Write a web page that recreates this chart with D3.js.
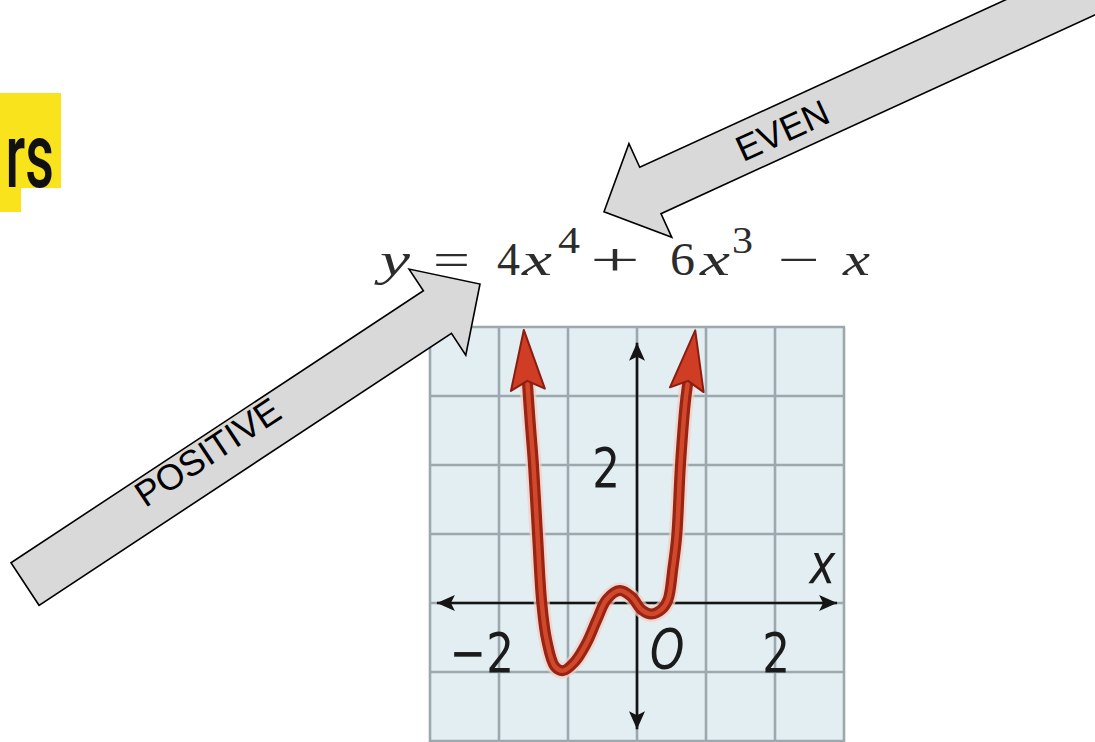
<!DOCTYPE html>
<html>
<head>
<meta charset="utf-8">
<script src="https://cdn.jsdelivr.net/npm/d3@7/dist/d3.min.js"></script>
<style>
  html, body { margin: 0; padding: 0; background: #fff; overflow: hidden; }
</style>
</head>
<body>
<div id="chart"></div>
<script>
// Curve, graph units (one grid square = 1)
const curveX = [-1.59, -1.55, -1.50, -1.44, -1.38, -1.31, -1.19, -1.07, -0.90, -0.73, -0.58, -0.44,
                -0.25, -0.08, 0.07, 0.21, 0.36, 0.45, 0.52, 0.575, 0.63, 0.70, 0.74];
const curveY = [3.22, 2.65, 2.0, 0.96, 0.0, -0.53, -0.92, -0.98, -0.85, -0.58, -0.24, 0.05,
                0.18, 0.09, -0.10, -0.16, -0.09, 0.05, 0.5, 0.96, 2.0, 2.9, 3.22];

const xTicks = [-2, 2];
const xTickLabels = ['\u22122', '2'];
const yTicks = [2];
const yTickLabels = ['2'];

const eqTokens = ['y', '=', '4', 'x', '4', '+', '6', 'x', '3', '\u2212', 'x'];
const arrowLabels = ['POSITIVE', 'EVEN'];
const titleText = 'rs';   // tail of the slide title, the rest is off the page

const W = 1095, H = 742;

const svg = d3.select('#chart').append('svg')
  .attr('width', W).attr('height', H)
  .attr('viewBox', `0 0 ${W} ${H}`);

const defs = svg.append('defs');

// ---- title fragment (top left) ----
svg.append('rect').attr('x', 0).attr('y', 93).attr('width', 61).attr('height', 95).attr('fill', '#f8e31c');
svg.append('rect').attr('x', 0).attr('y', 188).attr('width', 21).attr('height', 24).attr('fill', '#f8e31c');
svg.append('text')
  .attr('transform', 'translate(54,187) scale(0.62,1)')
  .attr('text-anchor', 'end')
  .attr('font-family', 'Roboto, sans-serif').attr('font-weight', 500)
  .attr('font-size', 90).attr('fill', '#111')
  .text(titleText);

// ---- graph ----
const x = d3.scaleLinear().domain([-3, 3]).range([430, 844]);
const y = d3.scaleLinear().domain([-2, 4]).range([741, 327]);

const graph = svg.append('g');

graph.append('rect')
  .attr('x', x(-3)).attr('y', y(4))
  .attr('width', x(3) - x(-3)).attr('height', y(-2) - y(4) + 4)
  .attr('fill', '#e3eef2');

graph.append('g').selectAll('line').data(x.ticks(6)).join('line')
  .attr('x1', d => x(d)).attr('x2', d => x(d))
  .attr('y1', y(4)).attr('y2', H)
  .attr('stroke', '#9ca8ad').attr('stroke-width', 2.6);
graph.append('g').selectAll('line').data(y.ticks(6)).join('line')
  .attr('x1', x(-3) - 1).attr('x2', x(3) + 1)
  .attr('y1', d => y(d)).attr('y2', d => y(d))
  .attr('stroke', '#9ca8ad').attr('stroke-width', 2.6);

// axis arrowheads
defs.append('marker')
  .attr('id', 'axisHead')
  .attr('markerUnits', 'userSpaceOnUse')
  .attr('viewBox', '-20 -10 22 20')
  .attr('markerWidth', 22).attr('markerHeight', 20)
  .attr('refX', 0).attr('refY', 0)
  .attr('orient', 'auto-start-reverse')
  .append('path').attr('d', 'M0,0 L-18,-8 L-14,0 L-18,8 Z').attr('fill', '#141414');

graph.append('line')
  .attr('x1', x(-2.9)).attr('x2', x(2.9)).attr('y1', y(0)).attr('y2', y(0))
  .attr('stroke', '#141414').attr('stroke-width', 2.6)
  .attr('marker-start', 'url(#axisHead)').attr('marker-end', 'url(#axisHead)');
graph.append('line')
  .attr('x1', x(0)).attr('x2', x(0)).attr('y1', y(-1.83)).attr('y2', y(3.77))
  .attr('stroke', '#141414').attr('stroke-width', 2.6)
  .attr('marker-start', 'url(#axisHead)').attr('marker-end', 'url(#axisHead)');

// tick labels and axis letters
const labelFont = 'DejaVu Sans, sans-serif';
graph.append('g').selectAll('text').data(xTicks).join('text')
  .attr('transform', d => `translate(${x(d) + 15},${y(-1)}) scale(0.78,1)`)
  .attr('text-anchor', 'end')
  .attr('font-family', labelFont).attr('font-size', 56).attr('fill', '#1b1b1b')
  .text((d, i) => xTickLabels[i]);
graph.append('g').selectAll('text').data(yTicks).join('text')
  .attr('transform', d => `translate(${x(0) - 17},${y(d) + 22}) scale(0.78,1)`)
  .attr('text-anchor', 'end')
  .attr('font-family', labelFont).attr('font-size', 56).attr('fill', '#1b1b1b')
  .text((d, i) => yTickLabels[i]);
graph.append('text')
  .attr('transform', `translate(${x(0) + 13},${y(0) + 65}) scale(0.78,1)`)
  .attr('font-family', labelFont).attr('font-style', 'italic')
  .attr('font-size', 56).attr('fill', '#1b1b1b').text('O');
graph.append('text')
  .attr('transform', `translate(${x(2.5)},${y(0) - 20}) scale(0.78,1)`)
  .attr('font-family', labelFont).attr('font-style', 'italic')
  .attr('font-size', 56).attr('fill', '#1b1b1b').text('x');

// the polynomial curve
const pts = curveX.map((v, i) => [v, curveY[i]]);
const line = d3.line().x(d => x(d[0])).y(d => y(d[1])).curve(d3.curveCatmullRom.alpha(0.5));

defs.append('marker')
  .attr('id', 'curveHead')
  .attr('markerUnits', 'userSpaceOnUse')
  .attr('viewBox', '-2 -20 66 40')
  .attr('markerWidth', 66).attr('markerHeight', 40)
  .attr('refX', 9).attr('refY', 0)
  .attr('orient', 'auto-start-reverse')
  .append('path')
  .attr('d', 'M0,-17 L60,0 L0,17 L9,0 Z')
  .attr('fill', '#cf3d24').attr('stroke', '#8a1d10').attr('stroke-width', 2)
  .attr('stroke-linejoin', 'round');

graph.append('path').attr('d', line(pts))
  .attr('fill', 'none').attr('stroke', '#f3cfc4').attr('stroke-width', 16)
  .attr('stroke-linejoin', 'round').attr('opacity', 0.7);
graph.append('path').attr('d', line(pts))
  .attr('fill', 'none').attr('stroke', '#982414').attr('stroke-width', 11)
  .attr('stroke-linejoin', 'round');
graph.append('path').attr('d', line(pts))
  .attr('fill', 'none').attr('stroke', '#d2482a').attr('stroke-width', 4.5)
  .attr('stroke-linejoin', 'round');
graph.append('path').attr('d', line(pts))
  .attr('fill', 'none').attr('stroke', 'none')
  .attr('marker-start', 'url(#curveHead)').attr('marker-end', 'url(#curveHead)');

// ---- equation ----
const eqLayout = [
  { x: 380, w: 30, it: true }, { x: 433, w: 37 }, { x: 497, w: 23 }, { x: 522, w: 30, it: true },
  { x: 558, w: 22, sup: true }, { x: 590, w: 50 }, { x: 670, w: 25 }, { x: 700, w: 30, it: true },
  { x: 732, w: 21, sup: true }, { x: 778, w: 42 }, { x: 843, w: 27, it: true }
];
svg.append('g').selectAll('text').data(eqTokens).join('text')
  .attr('x', (d, i) => eqLayout[i].x)
  .attr('y', (d, i) => eqLayout[i].sup ? 253 : 275)
  .attr('textLength', (d, i) => eqLayout[i].w)
  .attr('lengthAdjust', 'spacingAndGlyphs')
  .attr('font-family', 'Liberation Serif, serif')
  .attr('font-style', (d, i) => eqLayout[i].it ? 'italic' : 'normal')
  .attr('font-size', (d, i) => eqLayout[i].sup ? 38 : 46)
  .attr('fill', '#2c2c2c')
  .text(d => d);

// ---- block arrows ----
function arrowPoints(tip, angleDeg, length, shaftW, headW, headL) {
  const a = angleDeg * Math.PI / 180;
  const d = [Math.cos(a), Math.sin(a)];
  const n = [-d[1], d[0]];
  const P = (t, s) => [tip[0] - d[0] * t + n[0] * s, tip[1] - d[1] * t + n[1] * s];
  return [P(0, 0), P(headL, headW / 2), P(headL, shaftW / 2), P(length, shaftW / 2),
          P(length, -shaftW / 2), P(headL, -shaftW / 2), P(headL, -headW / 2)];
}

const arrows = [
  { tip: [480, 284], angle: -33.4, length: 545, textAt: 320, textOff: 10 },
  { tip: [604, 211.7], angle: 155.4, length: 700, textAt: 196, textOff: 0 }
];

arrows.forEach((ar, i) => {
  svg.append('polygon')
    .attr('points', arrowPoints(ar.tip, ar.angle, ar.length, 51, 103, 51).map(p => p.join(',')).join(' '))
    .attr('fill', '#d9d9d9').attr('stroke', '#000').attr('stroke-width', 1.6)
    .attr('stroke-linejoin', 'miter');

  const a = ar.angle * Math.PI / 180;
  const d = [Math.cos(a), Math.sin(a)];
  let rot = ar.angle;
  if (Math.abs(rot) > 90) rot = rot - 180;
  const r = rot * Math.PI / 180;
  const up = [Math.sin(r), -Math.cos(r)];
  const cx = ar.tip[0] - d[0] * ar.textAt + up[0] * ar.textOff;
  const cy = ar.tip[1] - d[1] * ar.textAt + up[1] * ar.textOff;
  svg.append('text')
    .attr('transform', `translate(${cx},${cy}) rotate(${rot})`)
    .attr('text-anchor', 'middle')
    .attr('dy', '0.36em')
    .attr('font-family', 'Liberation Sans, Arial, sans-serif')
    .attr('font-size', 36).attr('fill', '#000')
    .text(arrowLabels[i]);
});
</script>
</body>
</html>
